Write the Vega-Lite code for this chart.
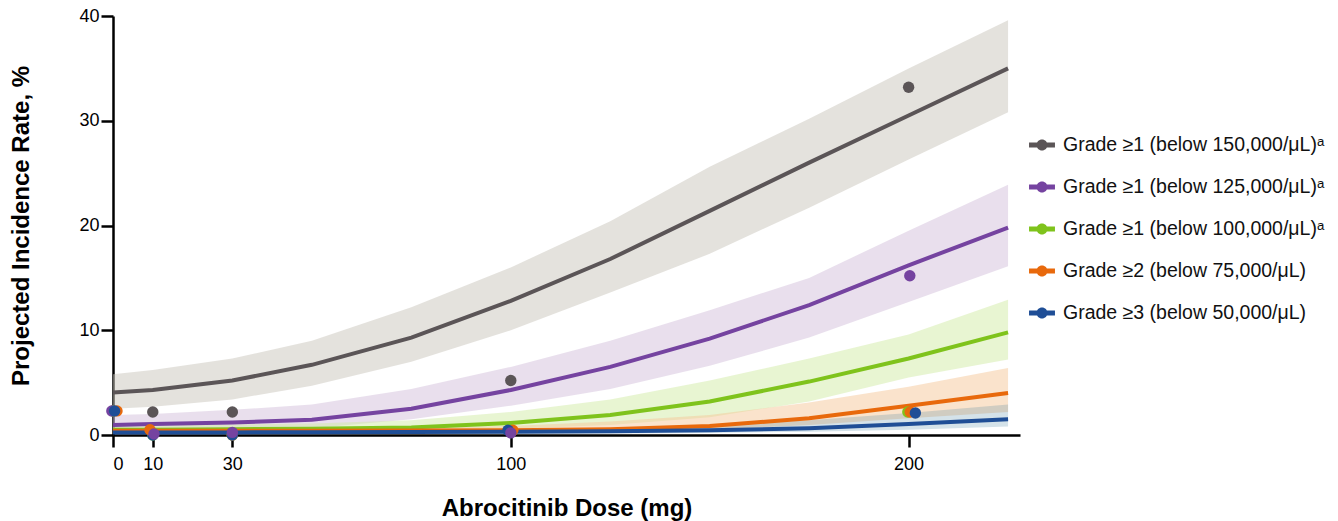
{
  "$schema": "https://vega.github.io/schema/vega-lite/v6.json",
  "autosize": {"type": "none"},
  "width": 907,
  "height": 419,
  "padding": {"left": 113, "top": 16, "right": 318, "bottom": 86},
  "background": "white",
  "config": {
    "view": {"stroke": null},
    "font": "Liberation Sans",
    "axis": {
      "grid": false,
      "domainColor": "black",
      "domainWidth": 2.5,
      "tickColor": "black",
      "tickWidth": 2.5,
      "tickSize": 12,
      "labelFont": "Liberation Sans",
      "labelFontSize": 18,
      "labelColor": "black",
      "titleFont": "Liberation Sans",
      "titleFontSize": 24,
      "titleFontWeight": "bold",
      "titleColor": "black"
    },
    "legend": {
      "labelFont": "Liberation Sans",
      "labelFontSize": 19.5,
      "labelColor": "#111111",
      "labelLimit": 400
    }
  },
  "datasets": {
    "curves": [
      {"series": "Grade ≥1 (below 150,000/μL)ᵃ", "dose": 0, "est": 4.05, "lo": 2.5, "hi": 5.8},
      {"series": "Grade ≥1 (below 150,000/μL)ᵃ", "dose": 10, "est": 4.3, "lo": 2.7, "hi": 6.2},
      {"series": "Grade ≥1 (below 150,000/μL)ᵃ", "dose": 30, "est": 5.2, "lo": 3.4, "hi": 7.3},
      {"series": "Grade ≥1 (below 150,000/μL)ᵃ", "dose": 50, "est": 6.7, "lo": 4.7, "hi": 9.0},
      {"series": "Grade ≥1 (below 150,000/μL)ᵃ", "dose": 75, "est": 9.3, "lo": 7.0, "hi": 12.2},
      {"series": "Grade ≥1 (below 150,000/μL)ᵃ", "dose": 100, "est": 12.8, "lo": 10.0, "hi": 16.0},
      {"series": "Grade ≥1 (below 150,000/μL)ᵃ", "dose": 125, "est": 16.8, "lo": 13.6, "hi": 20.4},
      {"series": "Grade ≥1 (below 150,000/μL)ᵃ", "dose": 150, "est": 21.4, "lo": 17.3, "hi": 25.6},
      {"series": "Grade ≥1 (below 150,000/μL)ᵃ", "dose": 175, "est": 26.0, "lo": 21.7, "hi": 30.2},
      {"series": "Grade ≥1 (below 150,000/μL)ᵃ", "dose": 200, "est": 30.5, "lo": 26.3, "hi": 35.0},
      {"series": "Grade ≥1 (below 150,000/μL)ᵃ", "dose": 225, "est": 35.0, "lo": 30.8, "hi": 39.6},
      {"series": "Grade ≥1 (below 125,000/μL)ᵃ", "dose": 0, "est": 0.95, "lo": 0.45, "hi": 1.9},
      {"series": "Grade ≥1 (below 125,000/μL)ᵃ", "dose": 10, "est": 1.05, "lo": 0.5, "hi": 2.0},
      {"series": "Grade ≥1 (below 125,000/μL)ᵃ", "dose": 30, "est": 1.2, "lo": 0.55, "hi": 2.4},
      {"series": "Grade ≥1 (below 125,000/μL)ᵃ", "dose": 50, "est": 1.45, "lo": 0.65, "hi": 2.9},
      {"series": "Grade ≥1 (below 125,000/μL)ᵃ", "dose": 75, "est": 2.5, "lo": 1.5, "hi": 4.4},
      {"series": "Grade ≥1 (below 125,000/μL)ᵃ", "dose": 100, "est": 4.3, "lo": 2.8, "hi": 6.5},
      {"series": "Grade ≥1 (below 125,000/μL)ᵃ", "dose": 125, "est": 6.5, "lo": 4.4, "hi": 9.0},
      {"series": "Grade ≥1 (below 125,000/μL)ᵃ", "dose": 150, "est": 9.2, "lo": 6.6, "hi": 11.9},
      {"series": "Grade ≥1 (below 125,000/μL)ᵃ", "dose": 175, "est": 12.4, "lo": 9.3, "hi": 15.0},
      {"series": "Grade ≥1 (below 125,000/μL)ᵃ", "dose": 200, "est": 16.2, "lo": 12.7, "hi": 19.5},
      {"series": "Grade ≥1 (below 125,000/μL)ᵃ", "dose": 225, "est": 19.8, "lo": 16.1, "hi": 23.9},
      {"series": "Grade ≥1 (below 100,000/μL)ᵃ", "dose": 0, "est": 0.5, "lo": 0.25, "hi": 0.85},
      {"series": "Grade ≥1 (below 100,000/μL)ᵃ", "dose": 10, "est": 0.5, "lo": 0.25, "hi": 0.9},
      {"series": "Grade ≥1 (below 100,000/μL)ᵃ", "dose": 30, "est": 0.55, "lo": 0.28, "hi": 1.0},
      {"series": "Grade ≥1 (below 100,000/μL)ᵃ", "dose": 50, "est": 0.6, "lo": 0.3, "hi": 1.1},
      {"series": "Grade ≥1 (below 100,000/μL)ᵃ", "dose": 75, "est": 0.72, "lo": 0.38, "hi": 1.4},
      {"series": "Grade ≥1 (below 100,000/μL)ᵃ", "dose": 100, "est": 1.15, "lo": 0.6, "hi": 2.2},
      {"series": "Grade ≥1 (below 100,000/μL)ᵃ", "dose": 125, "est": 1.9, "lo": 0.95, "hi": 3.4},
      {"series": "Grade ≥1 (below 100,000/μL)ᵃ", "dose": 150, "est": 3.2, "lo": 1.7, "hi": 5.2},
      {"series": "Grade ≥1 (below 100,000/μL)ᵃ", "dose": 175, "est": 5.1, "lo": 3.2, "hi": 7.3},
      {"series": "Grade ≥1 (below 100,000/μL)ᵃ", "dose": 200, "est": 7.3, "lo": 5.5, "hi": 9.6},
      {"series": "Grade ≥1 (below 100,000/μL)ᵃ", "dose": 225, "est": 9.8, "lo": 7.2, "hi": 12.9},
      {"series": "Grade ≥2 (below 75,000/μL)", "dose": 0, "est": 0.4, "lo": 0.2, "hi": 0.6},
      {"series": "Grade ≥2 (below 75,000/μL)", "dose": 10, "est": 0.4, "lo": 0.2, "hi": 0.6},
      {"series": "Grade ≥2 (below 75,000/μL)", "dose": 30, "est": 0.4, "lo": 0.2, "hi": 0.62},
      {"series": "Grade ≥2 (below 75,000/μL)", "dose": 50, "est": 0.4, "lo": 0.21, "hi": 0.65},
      {"series": "Grade ≥2 (below 75,000/μL)", "dose": 75, "est": 0.42, "lo": 0.22, "hi": 0.7},
      {"series": "Grade ≥2 (below 75,000/μL)", "dose": 100, "est": 0.45, "lo": 0.24, "hi": 0.85},
      {"series": "Grade ≥2 (below 75,000/μL)", "dose": 125, "est": 0.55, "lo": 0.3, "hi": 1.3},
      {"series": "Grade ≥2 (below 75,000/μL)", "dose": 150, "est": 0.85, "lo": 0.5, "hi": 1.9},
      {"series": "Grade ≥2 (below 75,000/μL)", "dose": 175, "est": 1.6, "lo": 0.95, "hi": 3.1},
      {"series": "Grade ≥2 (below 75,000/μL)", "dose": 200, "est": 2.8, "lo": 1.6, "hi": 4.6},
      {"series": "Grade ≥2 (below 75,000/μL)", "dose": 225, "est": 4.0, "lo": 2.2, "hi": 6.4},
      {"series": "Grade ≥3 (below 50,000/μL)", "dose": 0, "est": 0.25, "lo": 0.1, "hi": 0.45},
      {"series": "Grade ≥3 (below 50,000/μL)", "dose": 10, "est": 0.25, "lo": 0.1, "hi": 0.45},
      {"series": "Grade ≥3 (below 50,000/μL)", "dose": 30, "est": 0.25, "lo": 0.1, "hi": 0.46},
      {"series": "Grade ≥3 (below 50,000/μL)", "dose": 50, "est": 0.26, "lo": 0.1, "hi": 0.48},
      {"series": "Grade ≥3 (below 50,000/μL)", "dose": 75, "est": 0.28, "lo": 0.12, "hi": 0.5},
      {"series": "Grade ≥3 (below 50,000/μL)", "dose": 100, "est": 0.3, "lo": 0.13, "hi": 0.55},
      {"series": "Grade ≥3 (below 50,000/μL)", "dose": 125, "est": 0.35, "lo": 0.15, "hi": 0.65},
      {"series": "Grade ≥3 (below 50,000/μL)", "dose": 150, "est": 0.45, "lo": 0.2, "hi": 0.9},
      {"series": "Grade ≥3 (below 50,000/μL)", "dose": 175, "est": 0.65, "lo": 0.3, "hi": 1.4},
      {"series": "Grade ≥3 (below 50,000/μL)", "dose": 200, "est": 1.05, "lo": 0.5, "hi": 2.1},
      {"series": "Grade ≥3 (below 50,000/μL)", "dose": 225, "est": 1.5, "lo": 0.8, "hi": 2.9}
    ],
    "observed": [
      {"series": "Grade ≥1 (below 150,000/μL)ᵃ", "dose": 0, "rate": 2.3},
      {"series": "Grade ≥1 (below 100,000/μL)ᵃ", "dose": 0, "rate": 2.3},
      {"series": "Grade ≥1 (below 125,000/μL)ᵃ", "dose": -0.3, "rate": 2.3},
      {"series": "Grade ≥2 (below 75,000/μL)", "dose": 1.0, "rate": 2.3},
      {"series": "Grade ≥3 (below 50,000/μL)", "dose": 0.4, "rate": 2.3},
      {"series": "Grade ≥1 (below 150,000/μL)ᵃ", "dose": 10, "rate": 2.2},
      {"series": "Grade ≥1 (below 100,000/μL)ᵃ", "dose": 10, "rate": 0},
      {"series": "Grade ≥3 (below 50,000/μL)", "dose": 10, "rate": 0},
      {"series": "Grade ≥2 (below 75,000/μL)", "dose": 9.3, "rate": 0.5},
      {"series": "Grade ≥1 (below 125,000/μL)ᵃ", "dose": 10.3, "rate": 0.1},
      {"series": "Grade ≥1 (below 150,000/μL)ᵃ", "dose": 30, "rate": 2.2},
      {"series": "Grade ≥1 (below 100,000/μL)ᵃ", "dose": 30, "rate": 0},
      {"series": "Grade ≥2 (below 75,000/μL)", "dose": 30, "rate": 0},
      {"series": "Grade ≥3 (below 50,000/μL)", "dose": 30, "rate": 0},
      {"series": "Grade ≥1 (below 125,000/μL)ᵃ", "dose": 30, "rate": 0.25},
      {"series": "Grade ≥1 (below 150,000/μL)ᵃ", "dose": 100, "rate": 5.2},
      {"series": "Grade ≥1 (below 100,000/μL)ᵃ", "dose": 100, "rate": 0.3},
      {"series": "Grade ≥2 (below 75,000/μL)", "dose": 100.5, "rate": 0.45},
      {"series": "Grade ≥3 (below 50,000/μL)", "dose": 99.3, "rate": 0.45},
      {"series": "Grade ≥1 (below 125,000/μL)ᵃ", "dose": 100, "rate": 0.2},
      {"series": "Grade ≥1 (below 150,000/μL)ᵃ", "dose": 200, "rate": 33.2},
      {"series": "Grade ≥1 (below 125,000/μL)ᵃ", "dose": 200.3, "rate": 15.2},
      {"series": "Grade ≥1 (below 100,000/μL)ᵃ", "dose": 199.8, "rate": 2.2},
      {"series": "Grade ≥2 (below 75,000/μL)", "dose": 200.4, "rate": 2.2},
      {"series": "Grade ≥3 (below 50,000/μL)", "dose": 201.7, "rate": 2.1}
    ]
  },
  "resolve": {"scale": {"color": "independent"}},
  "layer": [
    {
      "data": {"name": "curves"},
      "mark": {"type": "area", "interpolate": "linear", "opacity": 1},
      "encoding": {
        "x": {"field": "dose", "type": "quantitative", "scale": {"domain": [0, 228], "nice": false},
          "axis": {"values": [0, 10, 30, 100, 200], "title": "Abrocitinib Dose (mg)", "labelPadding": 8, "titlePadding": 23}},
        "y": {"field": "lo", "type": "quantitative", "stack": null, "scale": {"domain": [0, 40], "nice": false},
          "axis": {"values": [0, 10, 20, 30, 40], "title": "Projected Incidence Rate, %", "labelPadding": 2, "titlePadding": 45}},
        "y2": {"field": "hi"},
        "color": {"field": "series", "type": "nominal", "legend": null,
          "scale": {"domain": ["Grade ≥1 (below 150,000/μL)ᵃ", "Grade ≥1 (below 125,000/μL)ᵃ", "Grade ≥1 (below 100,000/μL)ᵃ", "Grade ≥2 (below 75,000/μL)", "Grade ≥3 (below 50,000/μL)"],
            "range": ["rgba(202,198,188,0.5)", "rgba(212,192,219,0.5)", "rgba(210,235,166,0.5)", "rgba(245,200,154,0.5)", "rgba(60,122,153,0.22)"]}}
      }
    },
    {
      "data": {"name": "curves"},
      "mark": {"type": "line", "strokeWidth": 4, "interpolate": "linear"},
      "encoding": {
        "x": {"field": "dose", "type": "quantitative"},
        "y": {"field": "est", "type": "quantitative"},
        "color": {"field": "series", "type": "nominal", "legend": null,
          "scale": {"domain": ["Grade ≥1 (below 150,000/μL)ᵃ", "Grade ≥1 (below 125,000/μL)ᵃ", "Grade ≥1 (below 100,000/μL)ᵃ", "Grade ≥2 (below 75,000/μL)", "Grade ≥3 (below 50,000/μL)"],
            "range": ["#5b5557", "#7543a0", "#7fc31c", "#e8690c", "#1f4e96"]}},
        "order": {"field": "dose"}
      }
    },
    {
      "data": {"name": "observed"},
      "mark": {"type": "point", "filled": true, "size": 130, "opacity": 1},
      "encoding": {
        "x": {"field": "dose", "type": "quantitative"},
        "y": {"field": "rate", "type": "quantitative"},
        "color": {"field": "series", "type": "nominal",
          "scale": {"domain": ["Grade ≥1 (below 150,000/μL)ᵃ", "Grade ≥1 (below 125,000/μL)ᵃ", "Grade ≥1 (below 100,000/μL)ᵃ", "Grade ≥2 (below 75,000/μL)", "Grade ≥3 (below 50,000/μL)"],
            "range": ["#5b5557", "#7543a0", "#7fc31c", "#e8690c", "#1f4e96"]},
          "legend": {
            "title": null,
            "orient": "none",
            "legendX": 918,
            "legendY": 118,
            "symbolType": "M-1.2,-0.23H1.2V0.23H-1.2Z M0,-0.51A0.51,0.51 0 1,1 0,0.51A0.51,0.51 0 1,1 0,-0.51Z",
            "symbolSize": 467,
            "symbolStrokeWidth": 0,
            "symbolOpacity": 1,
            "rowPadding": 21,
            "labelOffset": 10
          }
        }
      }
    }
  ]
}
